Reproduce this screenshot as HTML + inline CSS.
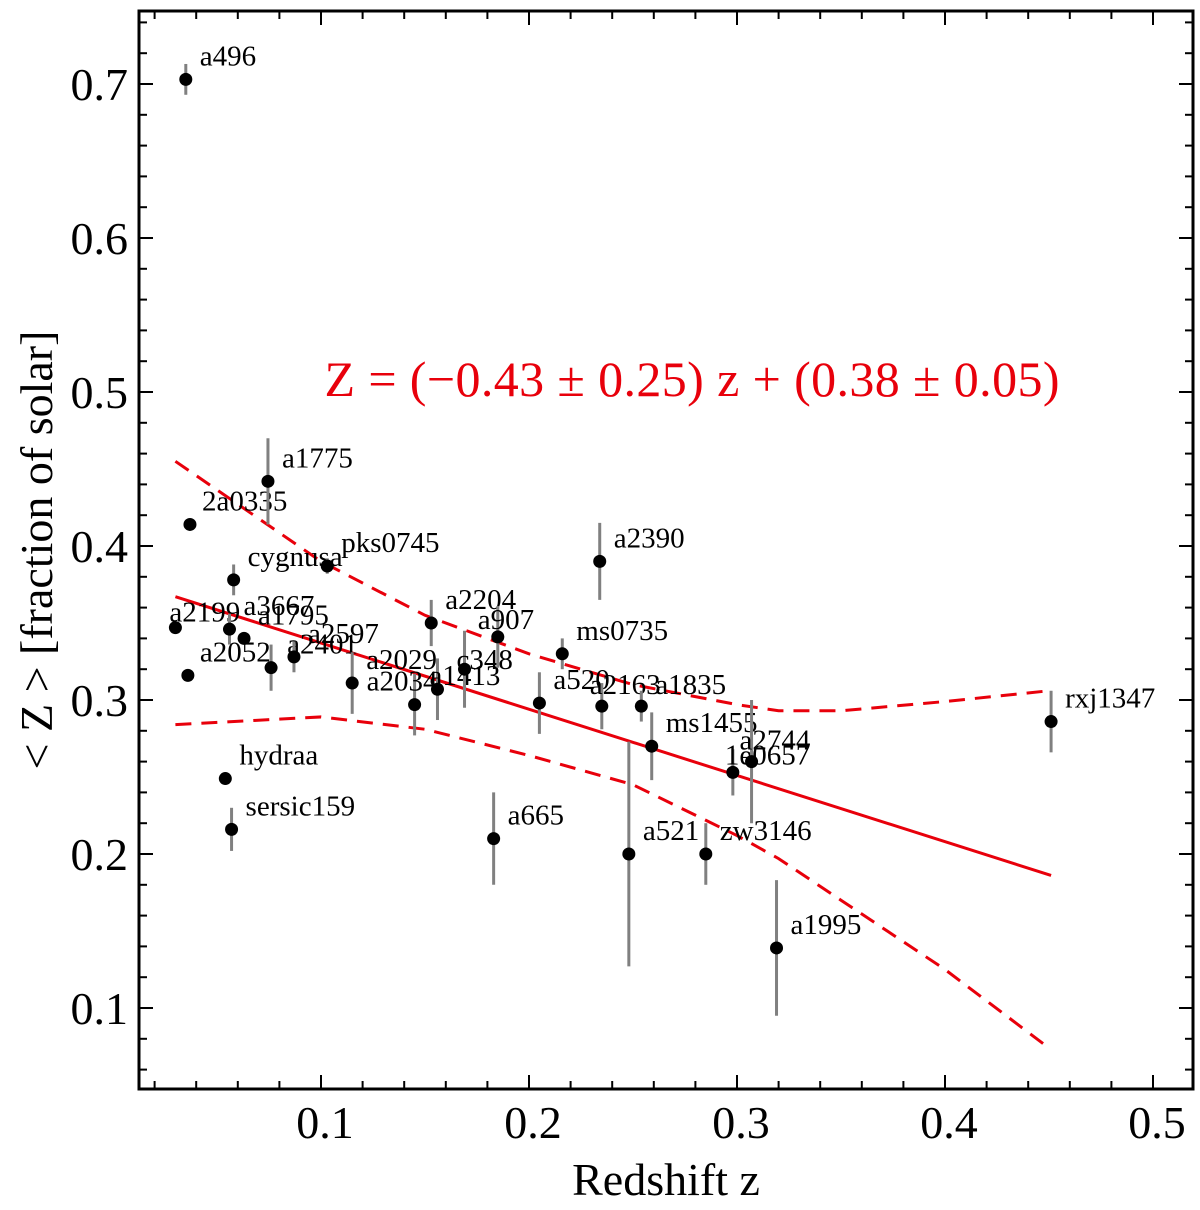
<!DOCTYPE html>
<html><head><meta charset="utf-8"><style>
body{margin:0;background:#fff;}
svg text{font-family:"Liberation Serif",serif;}
</style></head><body>
<svg id="chart" width="1200" height="1205" xmlns="http://www.w3.org/2000/svg">
<g id="plot"></g>
</svg>
<script>
const names=["a496","2a0335","a1775","cygnusa","pks0745","a2199","a3667","a1795","a2052","a2401","a2597","a2029","a2034","a1413","c348","a2204","a907","ms0735","a520","a2163","a1835","a2390","ms1455","1e0657","a2744","hydraa","sersic159","a665","a521","zw3146","a1995","rxj1347"];
const zs=[0.035,0.037,0.0745,0.058,0.103,0.030,0.056,0.063,0.036,0.076,0.087,0.115,0.145,0.156,0.169,0.153,0.185,0.216,0.205,0.235,0.254,0.234,0.259,0.298,0.307,0.054,0.057,0.183,0.248,0.285,0.319,0.451];
const Zs=[0.703,0.414,0.442,0.378,0.387,0.347,0.346,0.340,0.316,0.321,0.328,0.311,0.297,0.307,0.320,0.350,0.341,0.330,0.298,0.296,0.296,0.390,0.270,0.253,0.260,0.249,0.216,0.210,0.200,0.200,0.139,0.286];
const errs=[0.01,0,0.028,0.01,0.005,0,0.01,0,0,0.015,0.01,0.02,0.02,0.02,0.025,0.015,0.02,0.01,0.02,0.015,0.01,0.025,0.022,0.015,0.04,0,0.014,0.03,0.073,0.02,0.044,0.02];
const labelDx=[14,12,14,14,14,-6,14,14,12,16,14,14,-48,-8,-8,14,-20,14,14,-12,14,14,14,-8,-12,14,14,14,14,14,14,14];
const labelDy=[-14,-14,-14,-14,-14,-6,-14,-14,-14,-14,-14,-14,-14,-4,0,-14,-8,-14,-14,-12,-12,-14,-14,-8,-12,-14,-14,-14,-14,-14,-14,-14];
const bandZ=[0.03,0.1,0.15,0.2,0.25,0.3,0.32,0.35,0.4,0.45];
const bandUp=[0.455,0.39,0.355,0.33,0.31,0.297,0.293,0.293,0.299,0.306];
const bandLo=[0.284,0.289,0.281,0.264,0.245,0.212,0.197,0.17,0.125,0.074];
const fitSlope=-0.43, fitIcpt=0.38, fitRange=[0.03,0.451];
const xTicks=[0.1,0.2,0.3,0.4,0.5];
const yTicks=[0.1,0.2,0.3,0.4,0.5,0.6,0.7];
const L=139,T=11,R=1193,B=1089;
const X=v=>321+(v-0.1)*2080, Y=v=>84+(0.7-v)*1540;
const g=document.getElementById('plot'),NS="http://www.w3.org/2000/svg";
function mk(t,a,p){const e=document.createElementNS(NS,t);for(const k in a)e.setAttribute(k,a[k]);(p||g).appendChild(e);return e;}
for(let v=0.02;v<=0.52;v+=0.02){const x=X(v);if(x<L||x>R)continue;const maj=Math.abs(v*10-Math.round(v*10))<1e-6;const l=maj?14:8;
const t1=mk('line',{x1:x,x2:x,y1:B,y2:B-l,stroke:'#000','stroke-width':2});
const t2=mk('line',{x1:x,x2:x,y1:T,y2:T+l,stroke:'#000','stroke-width':2});}
for(let v=0.04;v<=0.76;v+=0.02){const y=Y(v);if(y<T||y>B)continue;const maj=Math.abs(v*10-Math.round(v*10))<1e-6;const l=maj?14:8;
const t1=mk('line',{x1:L,x2:L+l,y1:y,y2:y,stroke:'#000','stroke-width':2});
const t2=mk('line',{x1:R,x2:R-l,y1:y,y2:y,stroke:'#000','stroke-width':2});}
xTicks.forEach(v=>{const t=mk('text',{x:X(v)+4,y:1138,'font-size':46,'text-anchor':'middle'});t.textContent=v.toFixed(1);});
yTicks.forEach(v=>{const t=mk('text',{x:128,y:Y(v)+16,'font-size':46,'text-anchor':'end'});t.textContent=v.toFixed(1);});
const fr=mk('rect',{x:L,y:T,width:R-L,height:B-T,fill:'none',stroke:'#000','stroke-width':3});
const up=mk('polyline',{points:bandZ.map((z,i)=>X(z)+','+Y(bandUp[i])).join(' '),fill:'none',stroke:'#e8000b','stroke-width':3,'stroke-dasharray':'16,10'});

const lo=mk('polyline',{points:bandZ.map((z,i)=>X(z)+','+Y(bandLo[i])).join(' '),fill:'none',stroke:'#e8000b','stroke-width':3,'stroke-dasharray':'16,10'});

const fl=mk('line',{x1:X(fitRange[0]),y1:Y(fitIcpt+fitSlope*fitRange[0]),x2:X(fitRange[1]),y2:Y(fitIcpt+fitSlope*fitRange[1]),stroke:'#e8000b','stroke-width':3});

zs.forEach((z,i)=>{const x=X(z),y=Y(Zs[i]);
if(errs[i]>0){const e=mk('line',{x1:x,x2:x,y1:Y(Zs[i]+errs[i]),y2:Y(Zs[i]-errs[i]),stroke:'#808080','stroke-width':3});}
const c=mk('circle',{cx:x,cy:y,r:6.5,fill:'#000'});
const t=mk('text',{x:x+labelDx[i],y:y+labelDy[i],'font-size':29});t.textContent=names[i];});
const eq=mk('text',{x:692,y:396,'font-size':50,'text-anchor':'middle',fill:'#e8000b',textLength:735});eq.textContent='Z = (−0.43 ± 0.25) z + (0.38 ± 0.05)';

const xl=mk('text',{x:666,y:1195,'font-size':46,'text-anchor':'middle'});xl.textContent='Redshift z';
const yl=mk('text',{x:0,y:0,'font-size':46,'text-anchor':'middle',transform:'translate(52,550) rotate(-90)'});yl.textContent='< Z > [fraction of solar]';
</script>
</body></html>
